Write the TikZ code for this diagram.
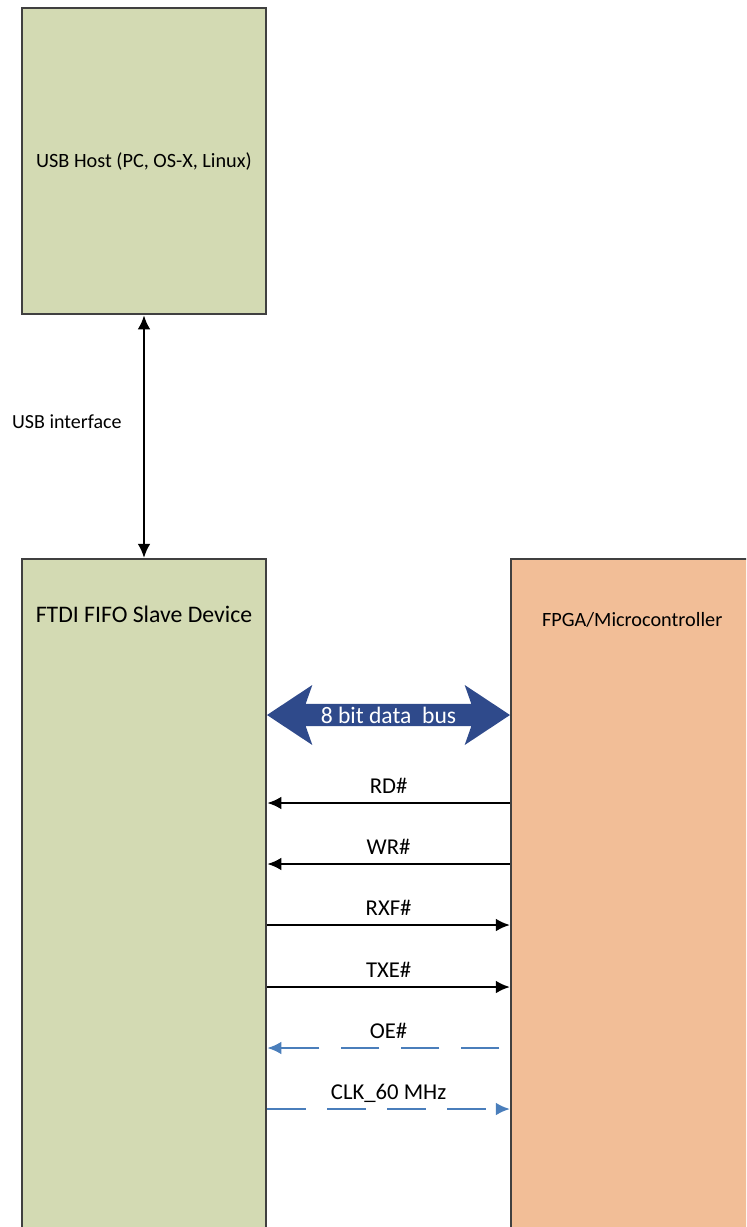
\documentclass[tikz,border=0pt]{standalone}
\usepackage{fontspec}
\setmainfont{Carlito}
\usetikzlibrary{positioning,shapes.arrows,arrows.meta}
\definecolor{boxgreen}{HTML}{D3DAB3}
\definecolor{boxorange}{HTML}{F2BE97}
\definecolor{boxline}{HTML}{404040}
\definecolor{busblue}{HTML}{2F4A8B}
\definecolor{dashblue}{HTML}{4A7EBB}
\begin{document}
\begin{tikzpicture}[x=0.75pt,y=-0.75pt,>={Latex[length=10.5pt,width=9.5pt]},
    node distance=182pt,
    box/.style={draw=boxline,line width=1.9pt,inner sep=0pt,minimum width=183pt},
    sig/.style={line width=1.7pt},
    dsig/.style={sig,draw=dashblue,dash pattern=on 29pt off 16pt},
    sig label/.style={above=6pt,inner sep=0pt,text depth=0pt,font=\fontsize{17}{20}\selectfont}]

    \clip (0,0) rectangle (746,1227);

    \node[box,fill=boxgreen,minimum height=229.5pt,font=\fontsize{15.2}{18}\selectfont] (host) at (144,161) {USB Host (PC, OS-X, Linux)};
    \node[box,fill=boxgreen,minimum height=518.25pt] (ftdi) [below=of host] {};
    \node[box,fill=boxorange,minimum width=181.5pt,minimum height=518.25pt] (fpga) [right=of ftdi] {};

    \node[anchor=base,font=\fontsize{17.8}{21}\selectfont] (ftdilbl) at (ftdi.north |- 0,622.5) {FTDI FIFO Slave Device};
    \node[anchor=base,font=\fontsize{15.2}{18}\selectfont] (fpgalbl) at (fpga.north |- 0,626.5) {FPGA/Microcontroller};

    \draw[sig,<->] (host) -- node[left=16pt,pos=0.44,inner sep=0pt,font=\fontsize{15}{18}\selectfont] (usblbl) {USB interface} (ftdi);

    \node[double arrow,fill=busblue,text=white,inner sep=0pt,
          minimum height=182.25pt,minimum width=45pt,
          double arrow head extend=10.9pt,double arrow head indent=5pt,double arrow tip angle=67,
          font=\fontsize{17.7}{21}\selectfont] (bus) at (388.5,715) {8 bit data\ \ bus};

    \draw[sig,<-] (ftdi.east |- 0,803) -- node[sig label] (rdlbl) {RD\#} (fpga.west |- 0,803);
    \draw[sig,<-] (ftdi.east |- 0,864) -- node[sig label] (wrlbl) {WR\#} (fpga.west |- 0,864);
    \draw[sig,->] (ftdi.east |- 0,925) -- node[sig label] (rxflbl) {RXF\#} (fpga.west |- 0,925);
    \draw[sig,->] (ftdi.east |- 0,987) -- node[sig label] (txelbl) {TXE\#} (fpga.west |- 0,987);
    \draw[dsig,->,shorten <=8pt] (fpga.west |- 0,1048) -- node[sig label] (oelbl) {OE\#} (ftdi.east |- 0,1048);
    \draw[dsig,->] (ftdi.east |- 0,1109) -- node[sig label] (clklbl) {CLK\_60 MHz} (fpga.west |- 0,1109);

\end{tikzpicture}
\end{document}
